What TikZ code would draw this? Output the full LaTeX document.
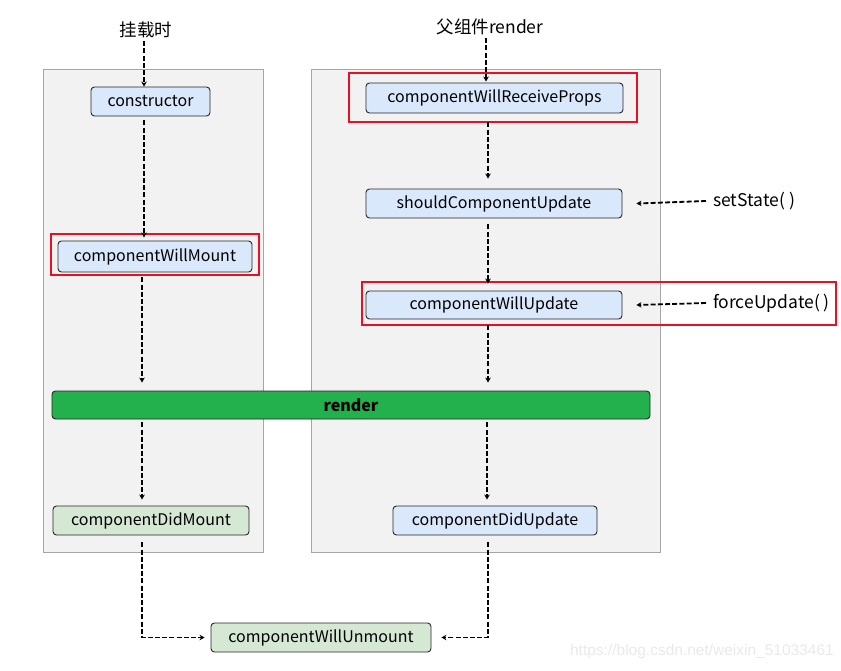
\documentclass[tikz,border=0pt]{standalone}
\usepackage{fontspec}
\setmainfont{Noto Sans CJK SC}
\usetikzlibrary{arrows.meta}
\definecolor{panelfill}{HTML}{F2F2F2}
\definecolor{panelline}{HTML}{A6A6A6}
\definecolor{bluefill}{HTML}{DAE8FC}
\definecolor{greenfill}{HTML}{D5E8D4}
\definecolor{renderfill}{HTML}{22B14C}
\definecolor{hired}{HTML}{E81123}
\definecolor{wmark}{HTML}{E9E9E9}
\tikzset{
  panel/.style={fill=panelfill, draw=panelline, line width=0.9pt},
  lifebox/.style={draw=black!85, rounded corners=3.5pt, line width=0.9pt, inner sep=0pt,
    font=\fontsize{16}{18}\selectfont},
  bluebox/.style={lifebox, fill=bluefill},
  greenbox/.style={lifebox, fill=greenfill},
  redframe/.style={draw=hired, line width=2pt},
  lbl/.style={font=\fontsize{17.5}{20}\selectfont, inner sep=0pt},
  arr/.style={-{Stealth[length=5pt,width=5.5pt]}, dash pattern=on 5pt off 2.2pt, line width=1.8pt},
}
\begin{document}
\begin{tikzpicture}[x=1pt,y=-1pt]
\useasboundingbox (0,0) rectangle (841,670);
% panels
\draw[panel] (43,69) rectangle (263,552);
\draw[panel] (311,69) rectangle (660,552);
% labels
\node[lbl] (lmount) at (146,30) {挂载时};
\node[lbl] (lparent) at (490,27) {父组件render};
\node[lbl, anchor=west] (lset) at (713,201) {setState( )};
\node[lbl, anchor=west] (lforce) at (713,303) {forceUpdate( )};
% left column
\node[bluebox, minimum width=119, minimum height=29] (ctor) at (150.5,101.5) {constructor};
\draw[redframe] (51,234) rectangle (259,275);
\node[bluebox, minimum width=194, minimum height=31] (cwm) at (155,256.5) {componentWillMount};
\node[greenbox, minimum width=196, minimum height=29] (cdm) at (151,520.5) {componentDidMount};
% right column
\draw[redframe] (349,73) rectangle (637,122);
\node[bluebox, minimum width=257, minimum height=30] (cwrp) at (494.5,98) {componentWillReceiveProps};
\node[bluebox, minimum width=256, minimum height=29] (scu) at (494,203.5) {shouldComponentUpdate};
\draw[redframe] (362,282) rectangle (836,325);
\node[bluebox, minimum width=256, minimum height=28] (cwu) at (494,305) {componentWillUpdate};
\node[bluebox, minimum width=204, minimum height=29] (cdu) at (495,520.5) {componentDidUpdate};
% render bar
\node[lifebox, fill=renderfill, minimum width=598, minimum height=28, font=\fontsize{16}{18}\selectfont\bfseries] (render) at (351,405) {render};
% unmount
\node[greenbox, minimum width=220, minimum height=29] (cwun) at (321,637.5) {componentWillUnmount};
% connectors
\draw[arr] (lmount.south -| 144,0) ++(0,3) -- (ctor.north -| 144,0);
\draw[arr] (ctor.south -| 144,0) ++(0,4) -- ([yshift=3pt]cwm.north -| 144,0);
\draw[arr] (cwm.south -| 142,0) ++(0,5) -- ([yshift=8pt]render.north -| 142,0);
\draw[arr] (render.south -| 142,0) ++(0,3) -- ([yshift=6pt]cdm.north -| 142,0);
\draw[arr] (lparent.south -| 486,0) ++(0,3) -- ([yshift=1pt]cwrp.north -| 486,0);
\draw[arr] ([yshift=-9pt]cwrp.south -| 488,0) -- ([yshift=10pt]scu.north -| 488,0);
\draw[arr] ([yshift=-6pt]scu.south -| 488,0) -- ([yshift=7pt]cwu.north -| 488,0);
\draw[arr] ([yshift=-6pt]cwu.south -| 488,0) -- ([yshift=8pt]render.north -| 488,0);
\draw[arr] (render.south -| 487,0) ++(0,3) -- ([yshift=6pt]cdu.north -| 487,0);
\draw[arr] ([xshift=-7pt]lset.west) -- ([xshift=14pt]scu.east);
\draw[arr] ([xshift=-7pt]lforce.west) -- ([xshift=14pt]cwu.east);
\draw[arr] ([yshift=-7pt]cdm.south -| 142,0) |- ([xshift=-6pt]cwun.west);
\draw[arr] ([yshift=-7pt]cdu.south -| 488,0) |- ([xshift=10pt]cwun.east);
% watermark
\node[font=\fontsize{15.5}{17}\selectfont\fontspec{Liberation Sans}, text=wmark, anchor=east, inner sep=0pt] (wm) at (834,651) {https://blog.csdn.net/weixin\_51033461};
\end{tikzpicture}
\end{document}
